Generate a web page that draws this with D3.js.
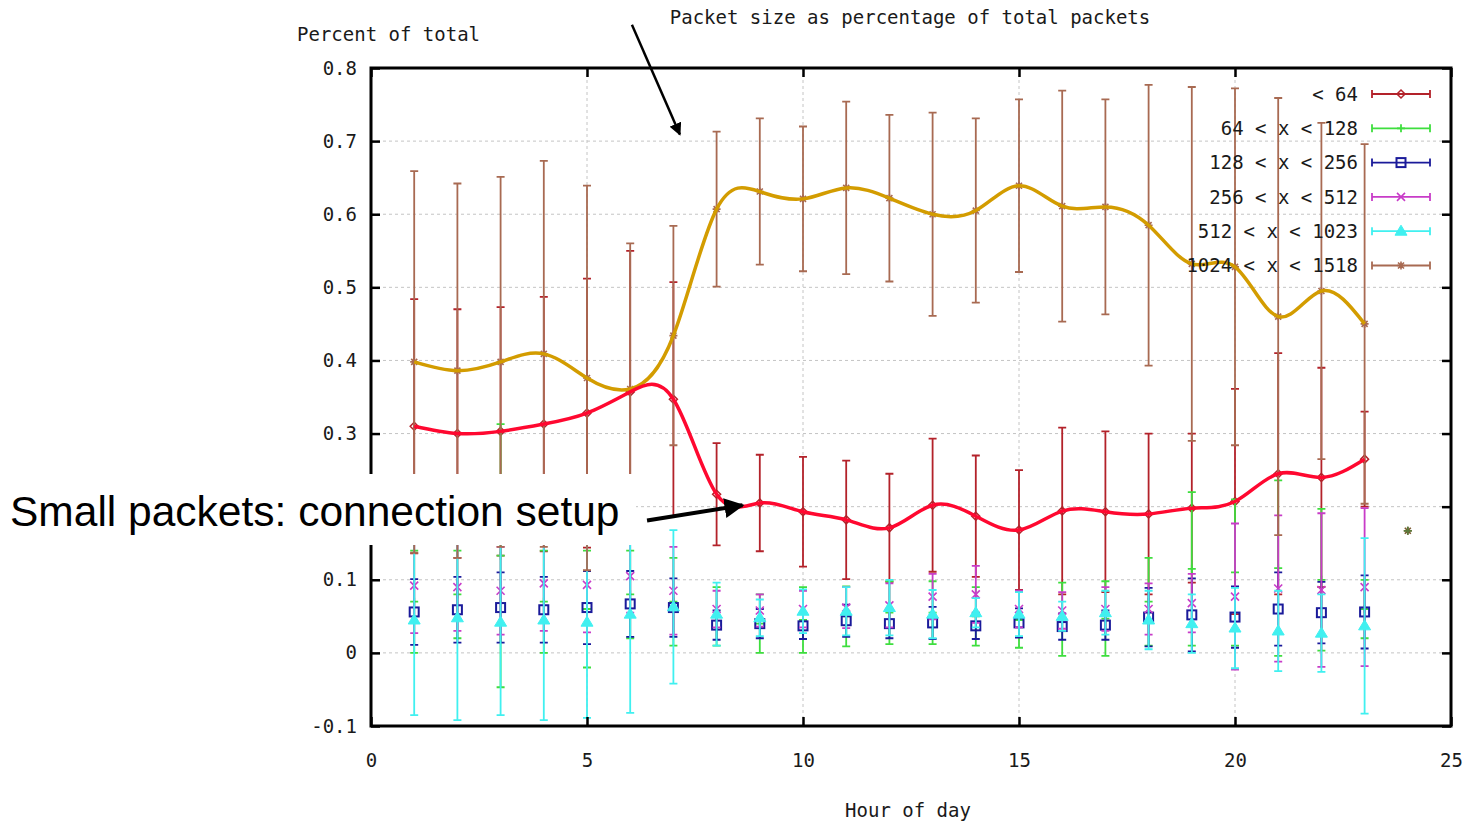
<!DOCTYPE html>
<html>
<head>
<meta charset="utf-8">
<script src="https://cdn.jsdelivr.net/npm/d3@7"></script>
<style>
  html, body { margin: 0; padding: 0; background: #fff; }
  svg { display: block; }
  .mono { font-family: 'DejaVu Sans Mono', 'Liberation Mono', monospace; font-size: 19px; fill: #1a1a1a; }
</style>
</head>
<body>
<svg id="chart" width="1466" height="822"></svg>
<script>
// hours sampled
const hours = [1, 2, 3, 4, 5, 6, 7, 8, 9, 10, 11, 12, 13, 14, 15, 16, 17, 18, 19, 20, 21, 22, 23]

// < 64
const lt64Mean = [0.310, 0.300, 0.303, 0.313, 0.328, 0.357, 0.347, 0.217, 0.205, 0.193, 0.182, 0.171, 0.202, 0.187, 0.168, 0.194, 0.193, 0.190, 0.198, 0.207, 0.245, 0.240, 0.265]
const lt64Err = [0.174, 0.170, 0.170, 0.174, 0.184, 0.193, 0.160, 0.070, 0.066, 0.075, 0.081, 0.074, 0.091, 0.083, 0.082, 0.114, 0.110, 0.110, 0.102, 0.154, 0.165, 0.150, 0.065]
// 64 < x < 128
const to128Mean = [0.070, 0.080, 0.133, 0.070, 0.060, 0.080, 0.070, 0.050, 0.040, 0.045, 0.050, 0.055, 0.055, 0.050, 0.045, 0.046, 0.047, 0.070, 0.115, 0.110, 0.116, 0.100, 0.060]
const to128Err = [0.070, 0.060, 0.180, 0.070, 0.080, 0.060, 0.060, 0.040, 0.040, 0.045, 0.041, 0.043, 0.043, 0.040, 0.038, 0.050, 0.051, 0.060, 0.105, 0.100, 0.120, 0.097, 0.040]
// 128 < x < 256
const to256Mean = [0.056, 0.059, 0.062, 0.059, 0.062, 0.067, 0.062, 0.038, 0.040, 0.037, 0.044, 0.040, 0.041, 0.037, 0.041, 0.036, 0.038, 0.049, 0.052, 0.049, 0.060, 0.055, 0.056]
const to256Err = [0.045, 0.045, 0.048, 0.045, 0.050, 0.045, 0.040, 0.020, 0.020, 0.018, 0.022, 0.020, 0.022, 0.018, 0.020, 0.018, 0.020, 0.040, 0.050, 0.042, 0.050, 0.042, 0.050]
// 256 < x < 512
const to512Mean = [0.092, 0.090, 0.085, 0.095, 0.093, 0.105, 0.085, 0.060, 0.058, 0.060, 0.062, 0.065, 0.077, 0.080, 0.060, 0.058, 0.060, 0.060, 0.068, 0.077, 0.088, 0.086, 0.090]
const to512Err = [0.065, 0.060, 0.060, 0.065, 0.065, 0.050, 0.060, 0.025, 0.022, 0.025, 0.028, 0.030, 0.031, 0.039, 0.025, 0.025, 0.030, 0.035, 0.040, 0.100, 0.100, 0.105, 0.108]
// 512 < x < 1023
const to1023Mean = [0.045, 0.048, 0.042, 0.045, 0.042, 0.053, 0.063, 0.053, 0.048, 0.057, 0.057, 0.062, 0.053, 0.055, 0.053, 0.050, 0.055, 0.045, 0.040, 0.034, 0.030, 0.027, 0.037]
const to1023Err = [0.130, 0.140, 0.127, 0.137, 0.131, 0.135, 0.105, 0.043, 0.025, 0.030, 0.033, 0.038, 0.033, 0.020, 0.030, 0.020, 0.030, 0.040, 0.040, 0.055, 0.055, 0.053, 0.120]
// 1024 < x < 1518
const to1518Mean = [0.398, 0.386, 0.398, 0.409, 0.376, 0.361, 0.434, 0.607, 0.631, 0.621, 0.636, 0.622, 0.600, 0.605, 0.639, 0.611, 0.610, 0.585, 0.532, 0.528, 0.460, 0.495, 0.450]
const to1518Err = [0.261, 0.256, 0.253, 0.264, 0.263, 0.199, 0.150, 0.106, 0.100, 0.099, 0.118, 0.114, 0.139, 0.126, 0.118, 0.158, 0.147, 0.192, 0.242, 0.244, 0.299, 0.230, 0.246]
// lone point at hour 24
const hour24 = [24]
const hour24Value = [0.167]

const seriesNames = ['< 64', '64 < x < 128', '128 < x < 256', '256 < x < 512', '512 < x < 1023', '1024 < x < 1518']
const xTicks = [0, 5, 10, 15, 20, 25]
const yTicks = [-0.1, 0, 0.1, 0.2, 0.3, 0.4, 0.5, 0.6, 0.7, 0.8]
// the 0.2 label sits under the annotation box in the original
const hiddenYLabels = [0.2]

const series = [
  { name: seriesNames[0], mean: lt64Mean, err: lt64Err, color: '#b3222a', marker: 'diamond' },
  { name: seriesNames[1], mean: to128Mean, err: to128Err, color: '#3ede3e', marker: 'plus' },
  { name: seriesNames[2], mean: to256Mean, err: to256Err, color: '#1a1a9a', marker: 'square' },
  { name: seriesNames[3], mean: to512Mean, err: to512Err, color: '#c83cc8', marker: 'cross' },
  { name: seriesNames[4], mean: to1023Mean, err: to1023Err, color: '#40f0f0', marker: 'triangle' },
  { name: seriesNames[5], mean: to1518Mean, err: to1518Err, color: '#a86a52', marker: 'star' }
]

const pad = { left: 371, right: 1451, top: 68, bottom: 726 }
const svg = d3.select('#chart')

const x = d3.scaleLinear().domain([0, 25]).range([pad.left, pad.right])
const y = d3.scaleLinear().domain([-0.1, 0.8]).range([pad.bottom, pad.top])
const fmt = d => String(+d.toFixed(1))

// grid
const grid = svg.append('g')
grid.selectAll('.gy').data(yTicks).join('line')
  .attr('x1', pad.left).attr('x2', pad.right)
  .attr('y1', d => y(d)).attr('y2', d => y(d))
  .attr('stroke', '#c4c4c4').attr('stroke-width', 1).attr('stroke-dasharray', '3,3')
grid.selectAll('.gx').data(xTicks).join('line')
  .attr('x1', d => x(d)).attr('x2', d => x(d))
  .attr('y1', pad.top).attr('y2', pad.bottom)
  .attr('stroke', '#c4c4c4').attr('stroke-width', 1).attr('stroke-dasharray', '3,3')

function marker (g, type, cx, cy, color) {
  const s = 4
  if (type === 'diamond') {
    g.append('path').attr('d', `M${cx},${cy - s}L${cx + s},${cy}L${cx},${cy + s}L${cx - s},${cy}Z`)
      .attr('fill', 'none').attr('stroke', color).attr('stroke-width', 1.5)
  } else if (type === 'plus') {
    g.append('path').attr('d', `M${cx - s},${cy}H${cx + s}M${cx},${cy - s}V${cy + s}`)
      .attr('stroke', color).attr('stroke-width', 1.8)
  } else if (type === 'square') {
    g.append('rect').attr('x', cx - 4.5).attr('y', cy - 4.5).attr('width', 9).attr('height', 9)
      .attr('fill', 'none').attr('stroke', color).attr('stroke-width', 2)
  } else if (type === 'cross') {
    g.append('path').attr('d', `M${cx - s},${cy - s}L${cx + s},${cy + s}M${cx - s},${cy + s}L${cx + s},${cy - s}`)
      .attr('stroke', color).attr('stroke-width', 1.6)
  } else if (type === 'triangle') {
    g.append('path').attr('d', `M${cx},${cy - 6}L${cx + 6},${cy + 4}L${cx - 6},${cy + 4}Z`)
      .attr('fill', color).attr('stroke', color).attr('stroke-width', 1)
  } else if (type === 'star') {
    g.append('path').attr('d', `M${cx - s},${cy}H${cx + s}M${cx},${cy - s}V${cy + s}M${cx - 3},${cy - 3}L${cx + 3},${cy + 3}M${cx - 3},${cy + 3}L${cx + 3},${cy - 3}`)
      .attr('stroke', color).attr('stroke-width', 1.6)
  }
}

// error bars + points
series.forEach(s => {
  const g = svg.append('g')
  hours.forEach((h, i) => {
    const px = x(h)
    const lo = y(s.mean[i] - s.err[i])
    const hi = y(s.mean[i] + s.err[i])
    g.append('path')
      .attr('d', `M${px},${lo}V${hi}M${px - 4},${lo}H${px + 4}M${px - 4},${hi}H${px + 4}`)
      .attr('stroke', s.color).attr('stroke-width', 1.8).attr('fill', 'none')
    marker(g, s.marker, px, y(s.mean[i]), s.color)
  })
})

hour24.forEach((h, i) => {
  const g = svg.append('g')
  marker(g, 'star', x(h), y(hour24Value[i]), '#7a5a30')
  marker(g, 'plus', x(h), y(hour24Value[i]), '#5a7a3a')
})

// smoothed lines (natural cubic splines)
const smooth = (vals) => d3.line()
  .x((d, i) => x(hours[i]))
  .y(d => y(d))
  .curve(d3.curveNatural)(vals)

svg.append('path').attr('d', smooth(to1518Mean))
  .attr('fill', 'none').attr('stroke', '#d39c00').attr('stroke-width', 3.5)
svg.append('path').attr('d', smooth(lt64Mean))
  .attr('fill', 'none').attr('stroke', '#ff0830').attr('stroke-width', 3.5)

// axes with inward ticks, mirrored
function styleAxis (g) {
  g.select('.domain').remove()
  g.selectAll('.tick line').attr('stroke', '#000').attr('stroke-width', 2.5)
}
svg.append('g').attr('transform', `translate(${pad.left},0)`)
  .call(d3.axisLeft(y).tickValues(yTicks).tickSize(-9).tickPadding(14)
    .tickFormat(d => hiddenYLabels.includes(d) ? '' : fmt(d)))
  .call(styleAxis)
svg.append('g').attr('transform', `translate(${pad.right},0)`)
  .call(d3.axisRight(y).tickValues(yTicks).tickSize(-9).tickFormat(''))
  .call(styleAxis)
svg.append('g').attr('transform', `translate(0,${pad.bottom})`)
  .call(d3.axisBottom(x).tickValues(xTicks).tickSize(-9).tickPadding(28).tickFormat(fmt))
  .call(styleAxis)
svg.append('g').attr('transform', `translate(0,${pad.top})`)
  .call(d3.axisTop(x).tickValues(xTicks).tickSize(-9).tickFormat(''))
  .call(styleAxis)
svg.selectAll('.tick text').attr('fill', '#1a1a1a').attr('font-family', "'DejaVu Sans Mono', monospace").attr('font-size', 19)

// frame
svg.append('rect')
  .attr('x', pad.left).attr('y', pad.top)
  .attr('width', pad.right - pad.left).attr('height', pad.bottom - pad.top)
  .attr('fill', 'none').attr('stroke', '#000').attr('stroke-width', 3)

// legend
const legend = svg.append('g')
series.forEach((s, i) => {
  const ly = 94 + i * 34.3
  legend.append('text').attr('class', 'mono')
    .attr('x', 1358).attr('y', ly).attr('dy', '0.35em').attr('text-anchor', 'end')
    .text(s.name)
  legend.append('path')
    .attr('d', `M1372,${ly}H1430M1372,${ly - 4}V${ly + 4}M1430,${ly - 4}V${ly + 4}`)
    .attr('stroke', s.color).attr('stroke-width', 1.8).attr('fill', 'none')
  marker(legend, s.marker, 1401, ly, s.color)
})

// titles
svg.append('text').attr('class', 'mono').attr('x', 910).attr('y', 24).attr('text-anchor', 'middle')
  .text('Packet size as percentage of total packets')
svg.append('text').attr('class', 'mono').attr('x', 297).attr('y', 41)
  .text('Percent of total')
svg.append('text').attr('class', 'mono').attr('x', 908).attr('y', 817).attr('text-anchor', 'middle')
  .text('Hour of day')

// annotations
const defs = svg.append('defs')
defs.append('marker').attr('id', 'head').attr('viewBox', '0 0 10 10')
  .attr('refX', 9).attr('refY', 5).attr('markerWidth', 5).attr('markerHeight', 5)
  .attr('orient', 'auto')
  .append('path').attr('d', 'M0,0L10,5L0,10Z').attr('fill', '#000')

svg.append('line')
  .attr('x1', x(6.04)).attr('y1', y(0.859)).attr('x2', x(7.15)).attr('y2', y(0.709))
  .attr('stroke', '#000').attr('stroke-width', 2.5).attr('marker-end', 'url(#head)')

svg.append('rect').attr('x', 0).attr('y', 474).attr('width', 636).attr('height', 71).attr('fill', '#fff')
svg.append('text').attr('x', 10).attr('y', 526)
  .attr('font-family', "'Liberation Sans', Arial, sans-serif").attr('font-size', 42.5).attr('fill', '#000')
  .text('Small packets: connection setup')
svg.append('line')
  .attr('x1', x(6.39)).attr('y1', y(0.181)).attr('x2', x(8.6)).attr('y2', y(0.202))
  .attr('stroke', '#000').attr('stroke-width', 4).attr('marker-end', 'url(#head)')
</script>
</body>
</html>
